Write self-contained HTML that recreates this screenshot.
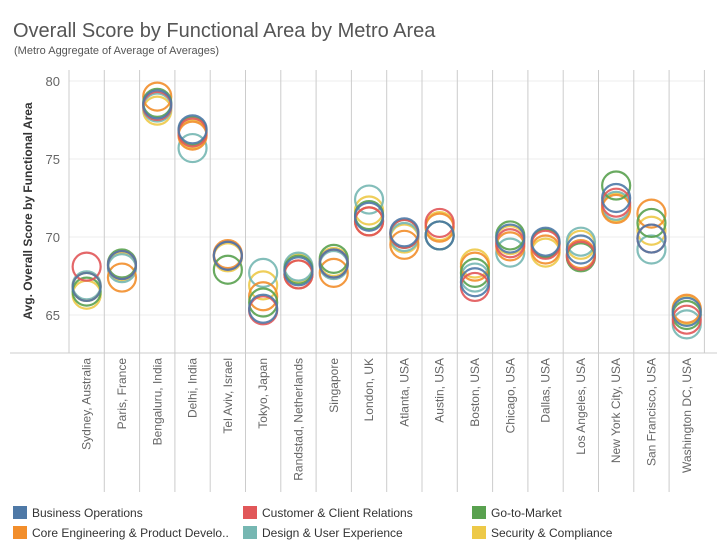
<!DOCTYPE html>
<html><head><meta charset="utf-8"><style>
body{margin:0;background:#fff;font-family:"Liberation Sans",sans-serif;}
#wrap{position:relative;width:717px;height:557px;overflow:hidden;}
</style></head><body>
<div id="wrap">
<svg id="chart" width="717" height="557">
<text x="13" y="37" font-size="20" fill="#555">Overall Score by Functional Area by Metro Area</text>
<text x="14" y="54" font-size="11" fill="#555">(Metro Aggregate of Average of Averages)</text>
<text transform="translate(32,211) rotate(-90)" text-anchor="middle" font-size="12" font-weight="bold" fill="#333">Avg. Overall Score by Functional Area</text>
<g id="grid"></g><g id="marks"></g><g id="legend"></g>
</svg>
</div>
<script>
const categories=["Sydney, Australia","Paris, France","Bengaluru, India","Delhi, India","Tel Aviv, Israel","Tokyo, Japan","Randstad, Netherlands","Singapore","London, UK","Atlanta, USA","Austin, USA","Boston, USA","Chicago, USA","Dallas, USA","Los Angeles, USA","New York City, USA","San Francisco, USA","Washington DC, USA"];
const seriesNames=["Business Operations","Customer & Client Relations","Go-to-Market","Core Engineering & Product Develo..","Design & User Experience","Security & Compliance"];
const seriesColors=["#4e79a7","#e15759","#59a14f","#f28e2b","#76b7b2","#edc948"];
const yTicks=[65,70,75,80];
const businessOps=[66.8,68.2,78.5,76.9,68.8,65.4,67.8,68.3,71.3,70.3,70.1,67.1,69.9,69.7,69.2,72.5,69.9,65.2];
const customerRel=[68.1,68.2,78.4,76.7,68.8,65.3,67.6,68.3,71.0,70.2,70.9,66.8,69.6,69.5,68.8,72.2,69.9,64.7];
const goToMarket=[66.5,68.3,78.6,76.8,67.9,65.8,67.9,68.6,71.4,70.2,70.1,67.7,70.1,69.6,68.7,73.3,70.9,65.0];
const coreEng=[66.8,67.4,79.0,76.5,68.9,66.2,67.6,67.7,71.0,69.5,70.6,68.1,69.4,69.2,68.9,71.8,71.5,65.4];
const designUX=[66.9,68.0,78.3,75.7,68.8,67.7,68.1,68.2,72.4,70.0,70.1,67.4,69.0,69.6,69.7,72.0,69.2,64.4];
const security=[66.3,68.1,78.1,76.6,68.7,66.9,68.0,68.4,71.7,69.9,70.7,68.3,69.8,69.0,69.5,71.9,70.4,65.3];
const seriesData=[businessOps,customerRel,goToMarket,coreEng,designUX,security];

const NS="http://www.w3.org/2000/svg";
const X0=69,COLW=35.3,YTOP=70,YBOT=353;
function xPos(i){return X0+COLW*(i+0.5);}
function yPos(v){return 81+(80-v)*15.6;}
function mk(tag,attrs,parent){const e=document.createElementNS(NS,tag);for(const k in attrs)e.setAttribute(k,attrs[k]);parent.appendChild(e);return e;}
const grid=document.getElementById('grid'),marks=document.getElementById('marks'),legend=document.getElementById('legend');
yTicks.forEach(t=>{
  const l=mk('line',{x1:X0,x2:705,y1:yPos(t),y2:yPos(t),stroke:'#eee','stroke-width':1},grid);
  
  
  const tx=mk('text',{x:60,y:yPos(t)+5,'text-anchor':'end','font-size':13,fill:'#666'},grid);
  tx.textContent=t;
  
  
});
for(let i=0;i<=categories.length;i++){
  const x=X0+COLW*i;
  const l=mk('line',{x1:x,x2:x,y1:YTOP,y2:(i==0||i==categories.length)?YBOT:492,stroke:'#ccc','stroke-width':1},grid);
  
  
}
const ax=mk('line',{x1:10,x2:717,y1:YBOT,y2:YBOT,stroke:'#ccc','stroke-width':1},grid);


categories.forEach((c,i)=>{
  const t=mk('text',{transform:`translate(${xPos(i)+4},358) rotate(-90)`,'text-anchor':'end','font-size':12,fill:'#666'},grid);
  t.textContent=c;
  
  
});
const drawOrder=[5,4,3,2,1,0];
drawOrder.forEach(s=>{
  const arr=seriesData[s];
  arr.forEach((v,i)=>{
    const c=mk('circle',{cx:xPos(i),cy:yPos(v),r:14,fill:'none',stroke:seriesColors[s],'stroke-width':2.2,'stroke-opacity':0.9},marks);
    
    
  });
});
seriesNames.forEach((n,s)=>{
  const col=s%3,row=Math.floor(s/3);
  const lx=[13,243,472][col],ly=[506,526][row];
  const r=mk('rect',{x:lx,y:ly,width:14,height:13,fill:seriesColors[s]},legend);
  
  
  const t=mk('text',{x:lx+19,y:ly+11,'font-size':12,fill:'#333'},legend);
  t.textContent=n;
  
  
});
</script>
</body></html>
